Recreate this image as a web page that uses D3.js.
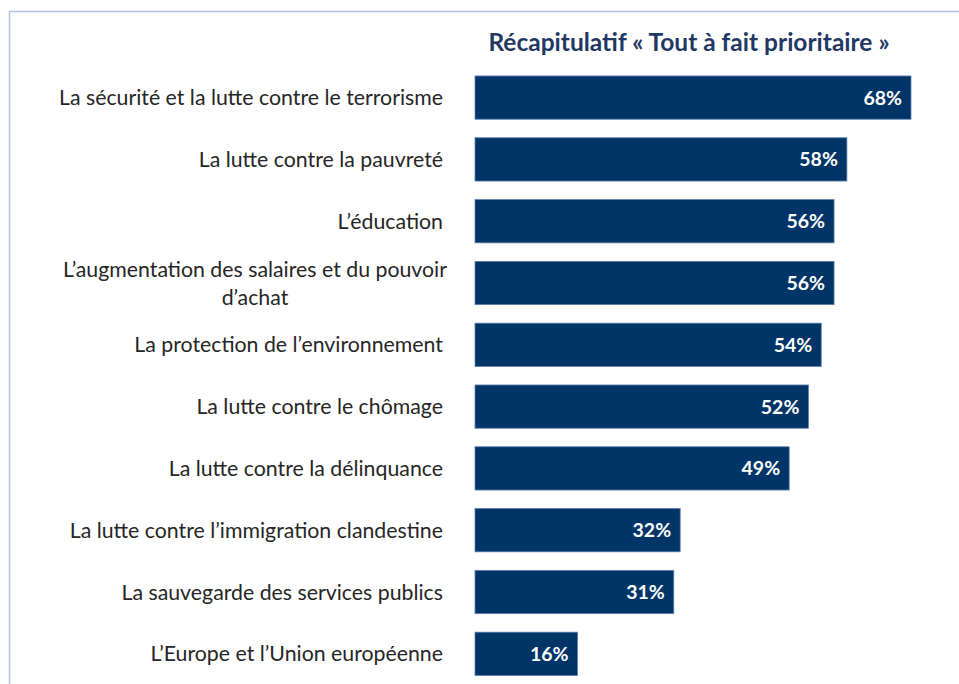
<!DOCTYPE html>
<html>
<head>
<meta charset="utf-8">
<script src="https://cdn.jsdelivr.net/npm/d3@7"></script>
<style>
  html, body { margin: 0; padding: 0; background: #ffffff; }
  svg { display: block; }
</style>
</head>
<body>
<svg id="chart" width="959" height="684"></svg>
<script>
const categories = [
  ["La sécurité et la lutte contre le terrorisme"],
  ["La lutte contre la pauvreté"],
  ["L’éducation"],
  ["L’augmentation des salaires et du pouvoir", "d’achat"],
  ["La protection de l’environnement"],
  ["La lutte contre le chômage"],
  ["La lutte contre la délinquance"],
  ["La lutte contre l’immigration clandestine"],
  ["La sauvegarde des services publics"],
  ["L’Europe et l’Union européenne"]
];
const values = [68, 58, 56, 56, 54, 52, 49, 32, 31, 16];
const valueLabels = ["68%", "58%", "56%", "56%", "54%", "52%", "49%", "32%", "31%", "16%"];
const title = "Récapitulatif « Tout à fait prioritaire »";

const W = 959, H = 684;
const svg = d3.select("#chart");
const font = "Lato, 'Open Sans', sans-serif";
const barColor = "#013567";
const labelSize = 21.3;

// frame
svg.append("path")
  .attr("d", `M9.5,${H} L9.5,11.5 L${W},11.5`)
  .attr("fill", "none")
  .attr("stroke", "#b4c6e7")
  .attr("stroke-width", 1.5);

const keys = categories.map((c, i) => i);
const y = d3.scaleBand().domain(keys).range([66.7, 684.7]).paddingInner(0.3).paddingOuter(0.15);
const x = d3.scaleLinear().domain([0, 68]).range([475, 911]);

// title
svg.append("text")
  .attr("x", 689).attr("y", 51)
  .attr("text-anchor", "middle")
  .attr("font-family", font)
  .attr("font-weight", 700)
  .attr("font-size", 24.5)
  .attr("fill", "#1f3864")
  .text(title);

// bars
svg.append("g").selectAll("rect").data(values).join("rect")
  .attr("x", x(0))
  .attr("y", (d, i) => y(i))
  .attr("width", d => x(d) - x(0))
  .attr("height", y.bandwidth())
  .attr("fill", barColor)
  .attr("stroke", "#5b7fae")
  .attr("stroke-width", 0.8);

// value labels
svg.append("g").selectAll("text").data(values).join("text")
  .attr("x", d => x(d) - 9)
  .attr("y", (d, i) => y(i) + y.bandwidth() / 2 + 7)
  .attr("text-anchor", "end")
  .attr("font-family", font)
  .attr("font-weight", 700)
  .attr("font-size", 19.5)
  .attr("fill", "#ffffff")
  .text((d, i) => valueLabels[i]);

// category labels
const lg = svg.append("g");
categories.forEach((lines, i) => {
  const cy = y(i) + y.bandwidth() / 2;
  if (lines.length === 1) {
    lg.append("text")
      .attr("x", 443)
      .attr("y", cy + 7.5)
      .attr("text-anchor", "end")
      .attr("font-family", font)
      .attr("font-size", labelSize)
      .attr("fill", "#262626")
      .text(lines[0]);
  } else {
    const t1 = lg.append("text")
      .attr("y", cy - 6)
      .attr("text-anchor", "middle")
      .attr("font-family", font)
      .attr("font-size", labelSize)
      .attr("fill", "#262626")
      .text(lines[0]);
    const w = t1.node().getComputedTextLength();
    const cx = 447 - w / 2;
    t1.attr("x", cx);
    lg.append("text")
      .attr("x", cx)
      .attr("y", cy + 22)
      .attr("text-anchor", "middle")
      .attr("font-family", font)
      .attr("font-size", labelSize)
      .attr("fill", "#262626")
      .text(lines[1]);
  }
});
</script>
</body>
</html>
